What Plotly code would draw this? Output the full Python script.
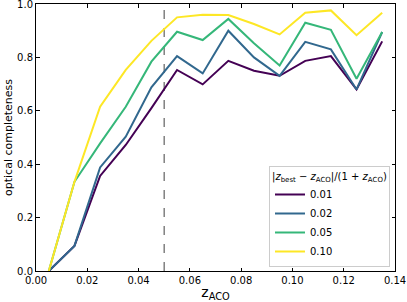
import plotly.graph_objects as go

z_aco = [0.005, 0.015, 0.025, 0.035, 0.045, 0.055, 0.065, 0.075, 0.085, 0.095, 0.105, 0.115, 0.125, 0.135]

comp_001 = [0.0, 0.094, 0.356, 0.472, 0.61, 0.753, 0.699, 0.787, 0.750, 0.731, 0.787, 0.805, 0.680, 0.860]
comp_002 = [0.0, 0.094, 0.388, 0.503, 0.688, 0.805, 0.740, 0.900, 0.800, 0.731, 0.858, 0.830, 0.680, 0.895]
comp_005 = [0.0, 0.334, 0.478, 0.615, 0.784, 0.896, 0.865, 0.944, 0.853, 0.770, 0.930, 0.903, 0.720, 0.895]
comp_010 = [0.0, 0.334, 0.615, 0.753, 0.862, 0.950, 0.960, 0.959, 0.925, 0.886, 0.967, 0.976, 0.883, 0.967]

labels = ["0.01", "0.02", "0.05", "0.10"]
colors = ["#440154", "#31688e", "#35b779", "#fde725"]
series = [comp_001, comp_002, comp_005, comp_010]

cut_z = 0.05

fig = go.Figure()
for lab, col, ys in zip(labels, colors, series):
    fig.add_trace(go.Scatter(x=z_aco, y=ys, mode="lines", name=lab,
                             line=dict(color=col, width=2)))

fig.add_shape(type="line", x0=cut_z, x1=cut_z, y0=0, y1=1, xref="x", yref="y",
              line=dict(color="#808080", width=1.5, dash="dash"), layer="below")

font_family = "DejaVu Sans"
fig.update_layout(
    width=407, height=302,
    margin=dict(l=36, r=12, t=4, b=31, autoexpand=False),
    paper_bgcolor="white", plot_bgcolor="white",
    font=dict(family=font_family, size=10, color="black"),
    showlegend=True,
    legend=dict(
        title=dict(text="|<i>z</i><sub>best</sub> − <i>z</i><sub>ACO</sub>|/(1 + <i>z</i><sub>ACO</sub>)",
                   side="top center", font=dict(size=10)),
        x=0.986, xanchor="right", y=0.015, yanchor="bottom",
        bordercolor="#cccccc", borderwidth=1, bgcolor="rgba(255,255,255,0.8)",
        font=dict(size=10), tracegroupgap=0, itemwidth=30,
    ),
    xaxis=dict(
        range=[0, 0.14], dtick=0.02, tickformat=".2f", automargin=False,
        ticklabeloverflow="allow",
        showgrid=False, zeroline=False,
        showline=True, linecolor="black", linewidth=1, mirror="allticks",
        ticks="inside", ticklen=3.5, tickcolor="black",
        title=dict(text="z<sub>ACO</sub>", font=dict(size=14), standoff=2),
    ),
    yaxis=dict(
        range=[0, 1.0], dtick=0.2, tickformat=".1f", automargin=False,
        ticklabeloverflow="allow",
        showgrid=False, zeroline=False,
        showline=True, linecolor="black", linewidth=1, mirror="allticks",
        ticks="inside", ticklen=3.5, tickcolor="black",
        title=dict(text="optical completeness", font=dict(size=11), standoff=2),
    ),
)

fig.write_html("out.html", config={"displayModeBar": False},
               post_script="document.body.style.margin='0';document.body.style.overflow='hidden';")
